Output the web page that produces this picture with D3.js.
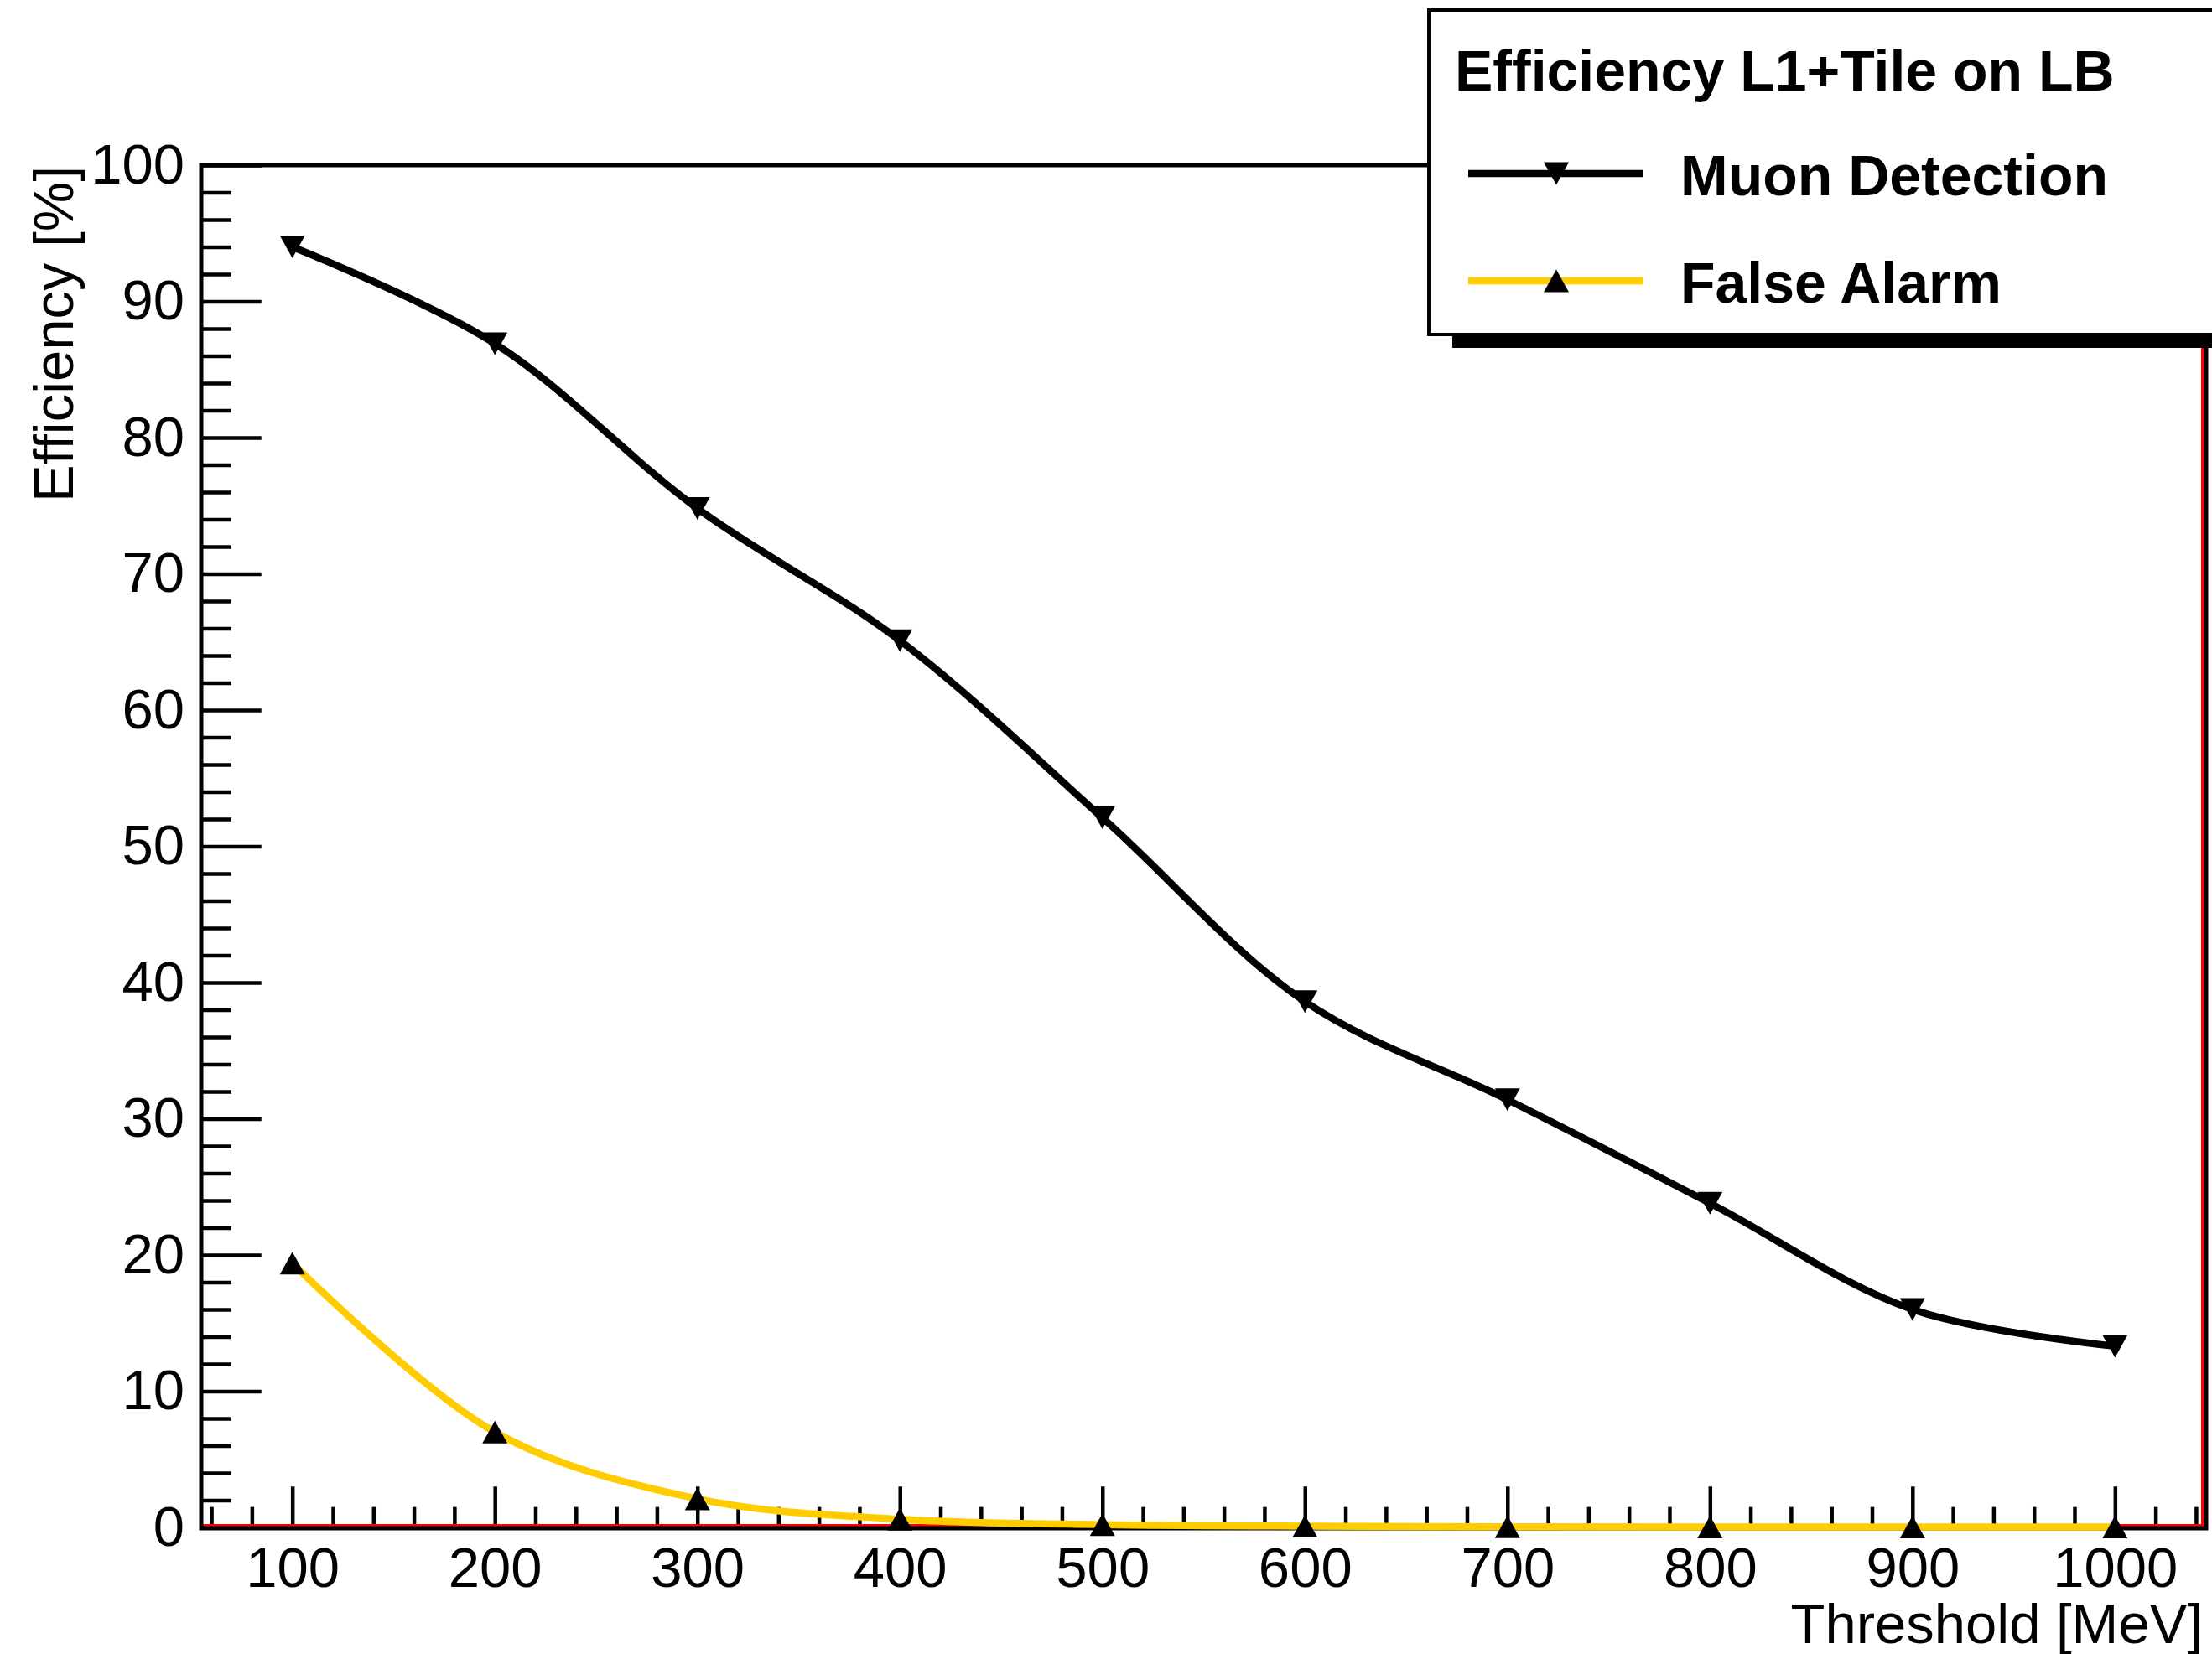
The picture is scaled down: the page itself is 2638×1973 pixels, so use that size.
<!DOCTYPE html>
<html>
<head>
<meta charset="utf-8">
<script src="https://cdn.jsdelivr.net/npm/d3@7"></script>
<style>
  body { margin: 0; background: #fff; }
  text { font-family: "Liberation Sans", Arial, Helvetica, sans-serif; }
</style>
</head>
<body>
<div id="vis"></div>
<script>
const W = 2638, H = 1973;
const margin = {top: 197, right: 5, bottom: 151, left: 240};

// data
const thresholds = [100, 200, 300, 400, 500, 600, 700, 800, 900, 1000];
const muonDetection = [94.0, 86.9, 74.8, 65.1, 52.1, 38.6, 31.4, 23.8, 16.0, 13.3];
const falseAlarm = [19.4, 7.0, 2.1, 0.6, 0.2, 0.1, 0.05, 0.03, 0.03, 0.03];
const xTicks = [100, 200, 300, 400, 500, 600, 700, 800, 900, 1000];
const yTicks = [0, 10, 20, 30, 40, 50, 60, 70, 80, 90, 100];
const xDomain = [55, 1045];
const yDomain = [0, 100];

const legendTitle = "Efficiency L1+Tile on LB";
const seriesNames = ["Muon Detection", "False Alarm"];
const seriesColors = ["#000000", "#ffcc00"];

const fontSize = 67;

const svg = d3.select('#vis')
  .append('svg')
  .attr('width', W)
  .attr('height', H);

const x = d3.scaleLinear().domain(xDomain).range([margin.left, W - margin.right - 2]);
const y = d3.scaleLinear().domain(yDomain).range([H - margin.bottom, margin.top]);

const frameW = x.range()[1] - x.range()[0];
const frameH = y.range()[0] - y.range()[1];

// minor ticks every 2 (y) and every 20 (x)
const yMinor = d3.range(0, 101, 2).filter(v => v % 10 !== 0);
const xMinor = d3.range(60, 1045, 20).filter(v => v % 100 !== 0);

// y axis, ticks pointing into the frame
svg.append('g')
  .attr('transform', `translate(${x.range()[0]},0)`)
  .call(d3.axisLeft(y).tickValues(yTicks).tickFormat(d3.format('d'))
    .tickSize(-frameW * 0.03).tickSizeOuter(0).tickPadding(20));
svg.append('g')
  .attr('transform', `translate(${x.range()[0]},0)`)
  .call(d3.axisLeft(y).tickValues(yMinor).tickSize(-frameW * 0.015).tickFormat(''));

svg.append('g')
  .attr('transform', `translate(0,${y(0)})`)
  .call(d3.axisBottom(x).tickValues(xTicks).tickFormat(d3.format('d'))
    .tickSize(-frameH * 0.03).tickSizeOuter(0).tickPadding(23));
svg.append('g')
  .attr('transform', `translate(0,${y(0)})`)
  .call(d3.axisBottom(x).tickValues(xMinor).tickSize(-frameH * 0.015).tickFormat(''));

svg.selectAll('.domain').remove();
svg.selectAll('.tick line').attr('stroke', '#000').attr('stroke-width', 4.5);
svg.selectAll('.tick text')
  .attr('fill', '#000')
  .style('font-size', fontSize + 'px')
  .style('font-family', '"Liberation Sans", Arial, sans-serif');

// red line along the bottom and right edge
svg.append('path')
  .attr('d', `M${x(xDomain[0]) + 2},${y(0) - 2} L${x(xDomain[1]) - 4},${y(0) - 2} L${x(xDomain[1]) - 4},${y(100)}`)
  .attr('fill', 'none')
  .attr('stroke', '#ff0000')
  .attr('stroke-width', 4);

// frame
svg.append('rect')
  .attr('x', x.range()[0])
  .attr('y', y.range()[1])
  .attr('width', frameW)
  .attr('height', frameH + 1)
  .attr('fill', 'none')
  .attr('stroke', '#000')
  .attr('stroke-width', 5);

// axis titles
svg.append('text')
  .attr('x', x.range()[1] - 4)
  .attr('y', 1960)
  .attr('text-anchor', 'end')
  .style('font-size', '67px')
  .text('Threshold [MeV]');

svg.append('text')
  .attr('transform', `translate(87,${y.range()[1] + 1}) rotate(-90)`)
  .attr('text-anchor', 'end')
  .style('font-size', '67px')
  .text('Efficiency [%]');

// triangle centred on its bounding box, like ROOT markers
function triangle(w, h, down) {
  const s = down ? -1 : 1;
  return `M0,${-s * h / 2} L${w / 2},${s * h / 2} L${-w / 2},${s * h / 2} Z`;
}

const line = d3.line()
  .x((d, i) => x(thresholds[i]))
  .y(d => y(d))
  .curve(d3.curveCatmullRom.alpha(0.5));

const series = [muonDetection, falseAlarm];

series.forEach((vals, k) => {
  svg.append('path')
    .attr('d', line(vals))
    .attr('fill', 'none')
    .attr('stroke', seriesColors[k])
    .attr('stroke-width', 8.5)
    .attr('stroke-linejoin', 'round');
});

series.forEach((vals, k) => {
  svg.append('g').selectAll('path')
    .data(vals)
    .enter()
    .append('path')
    .attr('transform', (d, i) => `translate(${x(thresholds[i])},${y(d)})`)
    .attr('d', triangle(30, 27, k === 0))
    .attr('fill', '#000');
});

// legend with shadow
const lg = {x: 1704, y: 12, w: 1000, h: 387, shadow: 16};
svg.append('rect')
  .attr('x', lg.x + 28).attr('y', lg.y + lg.shadow)
  .attr('width', lg.w).attr('height', lg.h)
  .attr('fill', '#000');
svg.append('rect')
  .attr('x', lg.x).attr('y', lg.y)
  .attr('width', lg.w).attr('height', lg.h)
  .attr('fill', '#fff')
  .attr('stroke', '#000')
  .attr('stroke-width', 4);

svg.append('text')
  .attr('x', 1735)
  .attr('y', 108)
  .style('font-size', '68px')
  .style('font-weight', 'bold')
  .text(legendTitle);

const entryY = [207, 335];
seriesNames.forEach((name, k) => {
  svg.append('line')
    .attr('x1', 1751).attr('x2', 1960)
    .attr('y1', entryY[k]).attr('y2', entryY[k])
    .attr('stroke', seriesColors[k])
    .attr('stroke-width', 8.5);
  svg.append('path')
    .attr('transform', `translate(1856,${entryY[k]})`)
    .attr('d', triangle(30, 27, k === 0))
    .attr('fill', '#000');
  svg.append('text')
    .attr('x', 2004)
    .attr('y', entryY[k] + 26)
    .style('font-size', '68px')
    .style('font-weight', 'bold')
    .text(name);
});
</script>
</body>
</html>
